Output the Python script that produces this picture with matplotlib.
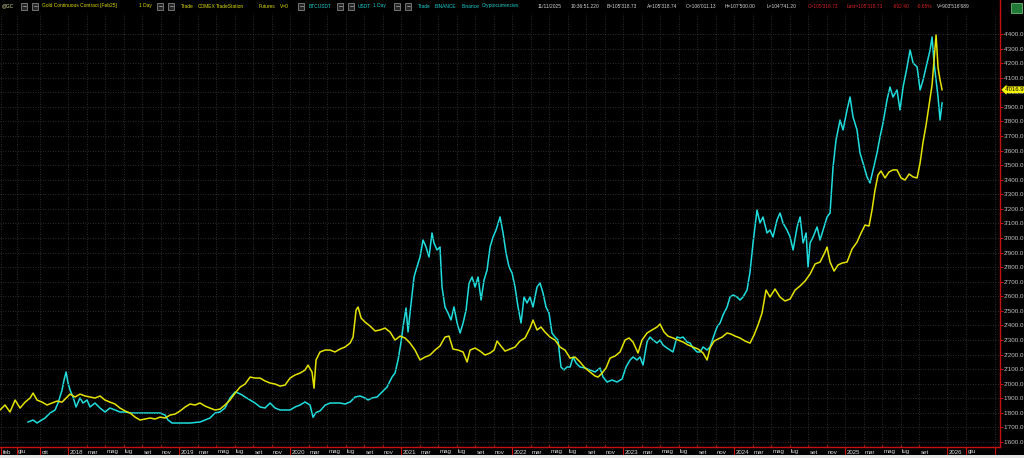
import matplotlib
matplotlib.use("Agg")
import matplotlib.pyplot as plt
import matplotlib.transforms as mtransforms
from matplotlib.patches import Rectangle
from matplotlib.lines import Line2D
from matplotlib.ticker import FuncFormatter
from matplotlib import font_manager
import numpy as np

plt.rcParams['font.family'] = ['Liberation Sans', 'DejaVu Sans']

# Gold continuous contract, values as read on the right-hand scale
gold_dates = [
    2017.387, 2017.432, 2017.477, 2017.523, 2017.568, 2017.613, 2017.658, 2017.685, 2017.721, 2017.766,
    2017.811, 2017.856, 2017.901, 2017.946, 2017.982,
    2018.018, 2018.063, 2018.108, 2018.153, 2018.198, 2018.243, 2018.288, 2018.333, 2018.378, 2018.423,
    2018.468, 2018.514, 2018.559, 2018.604, 2018.649, 2018.694, 2018.739, 2018.784, 2018.829, 2018.874,
    2018.919, 2018.964,
    2019.009, 2019.054, 2019.099, 2019.144, 2019.189, 2019.234, 2019.279, 2019.324, 2019.369, 2019.414,
    2019.459, 2019.505, 2019.550, 2019.595, 2019.640, 2019.685, 2019.730, 2019.775, 2019.820, 2019.865,
    2019.910, 2019.955,
    2020.000, 2020.045, 2020.090, 2020.135, 2020.162, 2020.198, 2020.216, 2020.234, 2020.270, 2020.315,
    2020.360, 2020.405, 2020.450, 2020.495, 2020.541, 2020.568, 2020.595, 2020.613, 2020.640, 2020.676,
    2020.721, 2020.766, 2020.811, 2020.856, 2020.901, 2020.946, 2020.991,
    2021.036, 2021.081, 2021.126, 2021.171, 2021.216, 2021.261, 2021.306, 2021.351, 2021.396, 2021.432,
    2021.468, 2021.514, 2021.559, 2021.595, 2021.622, 2021.667, 2021.712, 2021.757, 2021.802, 2021.838,
    2021.865, 2021.892, 2021.937, 2021.982,
    2022.027, 2022.072, 2022.117, 2022.162, 2022.189, 2022.225, 2022.261, 2022.297, 2022.342, 2022.387,
    2022.432, 2022.477, 2022.523, 2022.568, 2022.613, 2022.658, 2022.703, 2022.748, 2022.775, 2022.811,
    2022.847, 2022.883, 2022.928, 2022.973,
    2023.018, 2023.054, 2023.090, 2023.135, 2023.171, 2023.216, 2023.261, 2023.306, 2023.333, 2023.369,
    2023.405, 2023.450, 2023.495, 2023.541, 2023.586, 2023.631, 2023.676, 2023.721, 2023.757, 2023.784,
    2023.820, 2023.856, 2023.892, 2023.937, 2023.973,
    2024.009, 2024.054, 2024.099, 2024.144, 2024.180, 2024.216, 2024.252, 2024.288, 2024.324, 2024.369,
    2024.414, 2024.459, 2024.505, 2024.550, 2024.595, 2024.640, 2024.685, 2024.730, 2024.775, 2024.820,
    2024.838, 2024.865, 2024.901, 2024.937, 2024.973,
    2025.018, 2025.063, 2025.108, 2025.144, 2025.180, 2025.216, 2025.243, 2025.270, 2025.297, 2025.324,
    2025.360, 2025.396, 2025.432, 2025.468, 2025.505, 2025.541, 2025.577, 2025.613, 2025.649, 2025.676,
    2025.703, 2025.730, 2025.757, 2025.784, 2025.802, 2025.820, 2025.838, 2025.856, 2025.874,
]
gold_close = [
    1820, 1854, 1806, 1888, 1833, 1874, 1902, 1936, 1888, 1874, 1854, 1868, 1881, 1874, 1902,
    1929, 1909, 1929, 1916, 1909, 1902, 1916, 1888, 1874, 1861, 1833, 1813, 1799, 1771, 1751, 1758,
    1765, 1758, 1771, 1765, 1785, 1792,
    1813, 1840, 1861, 1854, 1868, 1847, 1833, 1820, 1826, 1854, 1888, 1936, 1977, 1998, 2046, 2039,
    2039, 2019, 2005, 1998, 1984, 1991,
    2039, 2060, 2073, 2094, 2128, 2080, 1970, 2163, 2218, 2231, 2231, 2218, 2238, 2252, 2279, 2320,
    2506, 2526, 2451, 2423, 2396, 2362, 2369, 2382, 2355, 2300, 2327,
    2314, 2279, 2231, 2163, 2183, 2197, 2231, 2259, 2320, 2327, 2238, 2231, 2218, 2149, 2231, 2245,
    2224, 2197, 2211, 2231, 2293, 2266, 2224, 2238,
    2252, 2293, 2314, 2382, 2437, 2369, 2389, 2355, 2320, 2300, 2252, 2231, 2176, 2183, 2149, 2108,
    2080, 2053, 2046, 2073, 2108, 2176, 2190, 2218,
    2300, 2314, 2286, 2211, 2300, 2348, 2369, 2389, 2410, 2355, 2327, 2314, 2300, 2286, 2266, 2252,
    2238, 2211, 2163, 2245, 2293, 2307, 2320, 2348, 2341,
    2327, 2314, 2293, 2279, 2334, 2403, 2485, 2643, 2595, 2650, 2595, 2568, 2581, 2643, 2671, 2705,
    2753, 2822, 2835, 2904, 2938, 2835, 2773, 2815, 2828,
    2835, 2924, 2972, 3034, 3089, 3082, 3192, 3329, 3432, 3460, 3412, 3453, 3467, 3467, 3412, 3398,
    3439, 3419, 3412, 3515, 3659, 3775, 3913, 4050, 4222, 4393, 4167, 4084, 4016.9,
]

# BTCUSDT daily close (USD), own hidden scale
btc_dates = [
    2017.640, 2017.685, 2017.721, 2017.748, 2017.793, 2017.838, 2017.883, 2017.910, 2017.946, 2017.964, 2017.982,
    2018.000, 2018.018, 2018.045, 2018.072, 2018.108, 2018.135, 2018.171, 2018.198, 2018.243, 2018.288,
    2018.333, 2018.378, 2018.423, 2018.468, 2018.514, 2018.559, 2018.649, 2018.739, 2018.829, 2018.874,
    2018.901, 2018.937,
    2019.009, 2019.099, 2019.189, 2019.279, 2019.324, 2019.369, 2019.414, 2019.459, 2019.505, 2019.532,
    2019.568, 2019.595, 2019.640, 2019.685, 2019.730, 2019.775, 2019.820, 2019.865, 2019.910, 2019.955,
    2020.000, 2020.045, 2020.090, 2020.135, 2020.180, 2020.207, 2020.234, 2020.270, 2020.315, 2020.360,
    2020.405, 2020.450, 2020.495, 2020.541, 2020.586, 2020.631, 2020.676, 2020.703, 2020.739, 2020.784,
    2020.829, 2020.874, 2020.919, 2020.946, 2020.973,
    2021.000, 2021.018, 2021.045, 2021.063, 2021.081, 2021.117, 2021.135, 2021.171, 2021.198, 2021.225,
    2021.252, 2021.279, 2021.297, 2021.324, 2021.351, 2021.369, 2021.396, 2021.423, 2021.450, 2021.477,
    2021.505, 2021.532, 2021.559, 2021.586, 2021.613, 2021.640, 2021.667, 2021.694, 2021.721, 2021.748,
    2021.775, 2021.802, 2021.829, 2021.856, 2021.883, 2021.892, 2021.919, 2021.946, 2021.973,
    2022.000, 2022.027, 2022.054, 2022.081, 2022.108, 2022.135, 2022.162, 2022.189, 2022.225, 2022.252,
    2022.279, 2022.306, 2022.333, 2022.360, 2022.387, 2022.414, 2022.441, 2022.468, 2022.495, 2022.523,
    2022.550, 2022.577, 2022.613, 2022.658, 2022.703, 2022.748, 2022.793, 2022.820, 2022.856, 2022.901,
    2022.946, 2022.991,
    2023.027, 2023.063, 2023.090, 2023.126, 2023.153, 2023.180, 2023.216, 2023.243, 2023.270, 2023.306,
    2023.333, 2023.360, 2023.396, 2023.423, 2023.450, 2023.486, 2023.514, 2023.541, 2023.577, 2023.604,
    2023.631, 2023.667, 2023.694, 2023.721, 2023.757, 2023.784, 2023.811, 2023.847, 2023.874, 2023.901,
    2023.937, 2023.964, 2023.991,
    2024.027, 2024.054, 2024.081, 2024.117, 2024.144, 2024.171, 2024.207, 2024.234, 2024.261, 2024.297,
    2024.324, 2024.351, 2024.387, 2024.414, 2024.441, 2024.477, 2024.505, 2024.532, 2024.568, 2024.595,
    2024.622, 2024.649, 2024.667, 2024.685, 2024.712, 2024.748, 2024.775, 2024.802, 2024.838, 2024.865,
    2024.892, 2024.919, 2024.955, 2024.982,
    2025.018, 2025.045, 2025.072, 2025.108, 2025.135, 2025.162, 2025.198, 2025.225, 2025.252, 2025.288,
    2025.315, 2025.342, 2025.378, 2025.405, 2025.432, 2025.468, 2025.495, 2025.523, 2025.559, 2025.586,
    2025.613, 2025.649, 2025.676, 2025.703, 2025.739, 2025.766, 2025.784, 2025.802, 2025.820, 2025.838,
    2025.856, 2025.874,
]
btc_close = [
    3500, 4130, 3180, 3820, 4770, 6350, 7300, 9510, 13630, 16790, 19330,
    15840, 13630, 11410, 8250, 11100, 9510, 10460, 8250, 9510, 7930, 6670, 7930, 7300, 6670, 6670,
    6350, 6350, 6350, 6350, 5720, 4130, 3180,
    3180, 3180, 3500, 4770, 6350, 6670, 7930, 11100, 13000, 12680, 12050, 11410, 10460, 9510, 8250,
    7930, 9510, 7930, 7300, 7300,
    7300, 8250, 8880, 9830, 8880, 5000, 6500, 7000, 8800, 9510, 9510, 9510, 9200, 9830, 11410, 11730,
    11100, 10460, 11100, 11410, 13000, 14580, 17740, 19010, 23120,
    28820, 33570, 39580, 32000, 38000, 49390, 51610, 55720, 61100, 58890, 55720, 63320, 60150, 57940,
    58890, 46230, 39900, 38000, 35780, 39900, 34830, 31670, 34830, 38950, 47490, 49390, 46230, 49390,
    42110, 48440, 51610, 58890, 62050, 64270, 67430, 68380, 63320, 56990, 52560,
    50660, 46230, 39900, 34830, 43060, 41160, 43060, 39900, 46230, 47490, 44330, 39900, 38000, 31670,
    30400, 29450, 20910, 19960, 20910, 20910, 24070, 22170, 20910, 20590, 19960, 19330, 20590, 17740,
    16160, 16790, 16160, 17110,
    20910, 23120, 24070, 23120, 24070, 21540, 28820, 30400, 29450, 28500, 29450, 27870, 26920, 26290,
    25660, 30400, 30090, 30400, 28820, 28500, 26920, 25660, 25660, 27240, 26290, 27240, 30090, 33570,
    34830, 37370, 39900, 43060, 43700,
    43060, 42110, 43060, 45280, 51000, 60150, 70600, 66480, 68380, 63320, 64270, 62050, 67430, 69650,
    66480, 64270, 62050, 57940, 65220, 68380, 60150, 63320, 52560, 60150, 62050, 65220, 61100, 64270,
    68380, 69650, 84210, 92750, 99080, 95920,
    102250, 106360, 100030, 95920, 88640, 85470, 81040, 79140, 83260, 88640, 93700, 98130, 105410,
    109530, 106360, 108580, 102250, 109530, 115860, 121240, 117120, 115860, 108580, 111740, 117120,
    121240, 125350, 117120, 111740, 106360, 99080, 104500,
]

# time axis labels (TradeStation style, Italian month names)
year_ticks = [2018, 2019, 2020, 2021, 2022, 2023, 2024, 2025, 2025.919]
year_labels = ["2018", "2019", "2020", "2021", "2022", "2023", "2024", "2025", "2026"]
month_names = ["mar", "mag", "lug", "set", "nov"]
lead_ticks = [2017.396, 2017.536, 2017.750]
lead_labels = ["feb", "giu", "ott"]
tail_ticks = [2026.09]
tail_labels = ["giu"]

month_ticks, month_labels = [], []
for y in range(2018, 2026):
    for k, name in enumerate(month_names):
        if y == 2025 and name == "nov":
            continue
        month_ticks.append(y + (k + 1) * 2 / 12)
        month_labels.append(name)

gold_ticks = np.arange(1600, 4401, 100)

YELLOW = "#e4e400"
CYAN = "#1fdede"
RED = "#c81010"
GRID = "#3a3a3a"

# narrow face for the cramped header, if it is installed
names = {f.name for f in font_manager.fontManager.ttflist}
HEAD_FONT = ["Liberation Sans Narrow", "Liberation Sans", "DejaVu Sans"] if "Liberation Sans Narrow" in names \
    else ["Liberation Sans", "DejaVu Sans"]
head_size = 4.0 if "Liberation Sans Narrow" in names else 3.5

W, H = 1024, 458
fig = plt.figure(figsize=(W / 100, H / 100), dpi=100, facecolor="black")
ax = fig.add_axes([0, 11 / H, 1000 / W, 433 / H])
ax.set_facecolor("black")
ax2 = ax.twinx()

ax.plot(btc_dates, btc_close, color=CYAN, lw=1.1, zorder=3)
ax2.plot(gold_dates, gold_close, color=YELLOW, lw=1.1, zorder=3)

ax.set_xlim(2017.387, 2026.396)
ax.set_ylim(-4410, 132630)
ax2.set_ylim(1566, 4537)

for a in (ax, ax2):
    for s in a.spines.values():
        s.set_visible(False)
ax.spines["bottom"].set_visible(True)
ax.spines["bottom"].set_color(RED)
ax.spines["bottom"].set_linewidth(1.0)
ax2.spines["right"].set_visible(True)
ax2.spines["right"].set_color(RED)
ax2.spines["right"].set_linewidth(1.0)

ax.tick_params(axis="y", left=False, labelleft=False)

# x ticks
ax.set_xticks(lead_ticks + year_ticks + tail_ticks + [2026.351])
ax.set_xticks(month_ticks, minor=True)
ax.tick_params(axis="x", which="major", length=8, width=0.8, color=RED, labelbottom=False)
ax.tick_params(axis="x", which="minor", length=1.5, width=0.8, color=RED, direction="in", labelbottom=False)
ax.grid(axis="x", which="both", color=GRID, ls=(0, (1, 2)), lw=0.6)
ax.set_axisbelow(True)

lab_tr = mtransforms.offset_copy(ax.get_xaxis_transform(), fig=fig, x=1.5, y=-5, units="dots")
for pos, lab in zip(lead_ticks + year_ticks + month_ticks + tail_ticks,
                    lead_labels + year_labels + month_labels + tail_labels):
    ax.text(pos, 0, lab, transform=lab_tr, ha="left", va="center", fontsize=4.4,
            color="#dcdcdc", clip_on=False)

# gold price scale on the right
ax2.set_yticks(gold_ticks)
ax2.yaxis.set_major_formatter(FuncFormatter(lambda v, p: f"{v:,.1f}".replace(",", "'")))
ax2.tick_params(axis="y", length=2, width=0.7, color=RED, pad=0.8, labelsize=4.5, labelcolor="#c4c4c4")
ax2.grid(axis="y", color=GRID, ls=(0, (1, 2)), lw=0.6)

gold_last = gold_close[-1]
ax2.annotate(f"{gold_last:,.1f}".replace(",", "'"), xy=(1, gold_last),
             xycoords=ax2.get_yaxis_transform(), xytext=(5, 0), textcoords="offset pixels",
             fontsize=4.3, color="black", va="center", ha="left", annotation_clip=False, zorder=10,
             bbox=dict(boxstyle="larrow,pad=0.15", fc="#f4f400", ec="none"))

# header line
HY = "#d8d800"
HC = "#19cccc"
HW = "#d4d4d4"
HR = "#d42020"
header = [
    (2, "@GC", "#e8e8b0"), (42, "Gold Continuous Contract [Feb25]", HY), (139, "1 Day", HY),
    (181, "Trade", HY), (198, "COMEX", HY), (216, "TradeStation", HY), (259, "Futures", HY), (280, "V=0", HY),
    (309, "BTCUSDT", HC), (358, "USDT", HC), (373, "1 Day", HC), (418, "Trade", HC), (435, "BINANCE", HC),
    (462, "Binance", HC), (482, "Cryptocurrencies", HC),
    (538, "11/11/2025", HW), (571, "10:36:51.220", HW), (607, "B=105'318.73", HW), (647, "A=105'318.74", HW),
    (686, "O=106'011.13", HW), (725, "H=107'500.00", HW), (767, "L=104'741.20", HW),
    (808, "C=105'318.73", HR), (847, "Last=105'318.73", HR), (893, "-692.40", HR), (917, "-0.65%", HR),
    (937, "V=903'516'689", HW),
]
for px, txt, col in header:
    fig.text(px / W, (H - 6) / H, txt, color=col, fontsize=head_size, ha="left", va="center",
             family=HEAD_FONT)

for px in [21, 32, 157, 168, 298, 337, 348, 394, 405]:
    fig.patches.append(Rectangle((px / W, (H - 9.5) / H), 6 / W, 7 / H, transform=fig.transFigure,
                                 fc="#262626", ec="#9a9a9a", lw=0.5))
    fig.add_artist(Line2D([(px + 1.5) / W, (px + 4.5) / W], [(H - 6) / H] * 2, color="#b0b0b0", lw=0.5))

fig.add_artist(Line2D([999.5 / W] * 2, [444 / H, 1], color=RED, lw=1.0))
fig.patches.append(Rectangle((1011 / W, (H - 13) / H), 11 / W, 10 / H, transform=fig.transFigure,
                             fc="#1e7a34", ec="#8ad08a", lw=0.5))
fig.patches.append(Rectangle((0, 0), 1, 3 / H, transform=fig.transFigure, fc="#e6e6e6", ec="none"))

fig.savefig("out.png", dpi=100, facecolor="black")
